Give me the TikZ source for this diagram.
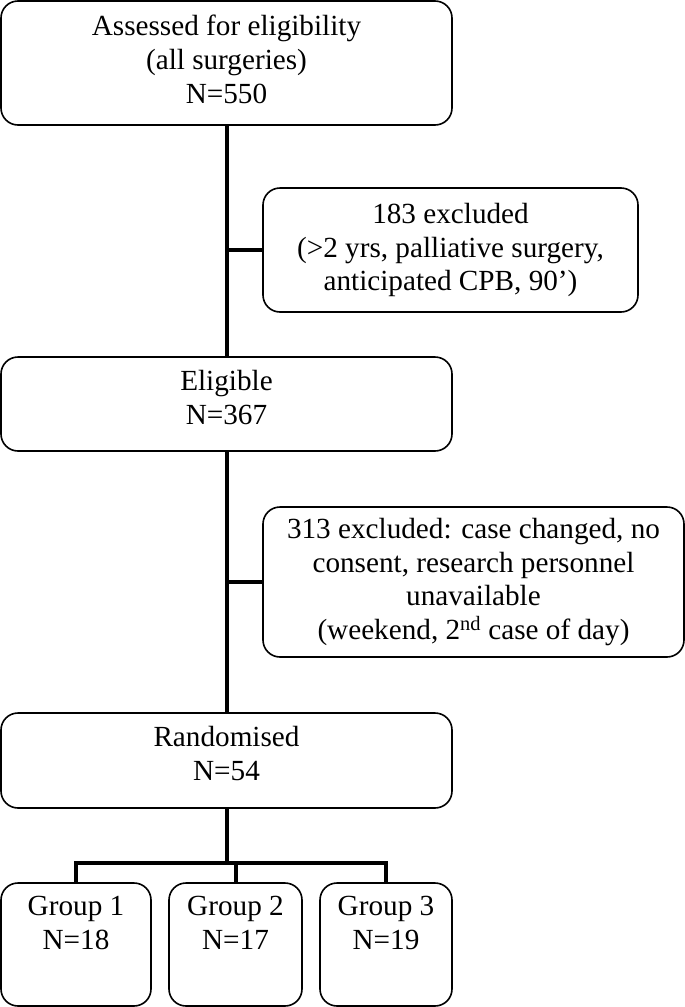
\documentclass[tikz,border=0pt]{standalone}
\usepackage{fontspec}
\setmainfont{Liberation Serif}
\begin{document}
\begin{tikzpicture}[x=1pt,y=-1pt,
  box/.style={draw=black, line width=1.6pt, rounded corners=17pt, align=center,
    inner sep=0pt, font=\fontsize{29.2}{33.8}\selectfont},
  conn/.style={draw=black, line width=4pt}]
\useasboundingbox (0,0) rectangle (685,1007);
\node[box, minimum width=451pt, minimum height=124pt] (top) at (226.5,63)
  {Assessed for eligibility\\(all surgeries)\\N=550\\[-26pt]};
\node[box, minimum width=375pt, minimum height=124pt] (ex1) at (450.5,250)
  {183 excluded\\(>2 yrs, palliative surgery,\\anticipated CPB, 90’)};
\node[box, minimum width=451pt, minimum height=94pt] (elig) at (226.5,404)
  {Eligible\\N=367\\[-20pt]};
\node[box, minimum width=421pt, minimum height=150pt] (ex2) at (473.5,582)
  {313 excluded: case changed, no\\consent, research personnel\\unavailable\\(weekend, 2\textsuperscript{nd} case of day)};
\node[box, minimum width=451pt, minimum height=95pt] (rand) at (226.5,760.5)
  {Randomised\\N=54\\[-20pt]};
\node[box, minimum width=150pt, minimum height=123pt] (g1) at (76,944.5)
  {Group 1\\N=18\\\strut};
\node[box, minimum width=133pt, minimum height=123pt] (g2) at (235.5,944.5)
  {Group 2\\N=17\\\strut};
\node[box, minimum width=132pt, minimum height=123pt] (g3) at (386,944.5)
  {Group 3\\N=19\\\strut};
\coordinate (split) at (226.5,863);
\draw[conn] (top.south) -- (elig.north);
\draw[conn] (ex1.west) -- (ex1.west -| top.south);
\draw[conn] (elig.south) -- (rand.north);
\draw[conn] (ex2.west) -- (ex2.west -| elig.south);
\draw[conn] (rand.south) -- (split);
\draw[conn] (g1.north) |- (split) -| (g3.north);
\draw[conn] (g2.north) -- (g2.north |- split);
\end{tikzpicture}
\end{document}
